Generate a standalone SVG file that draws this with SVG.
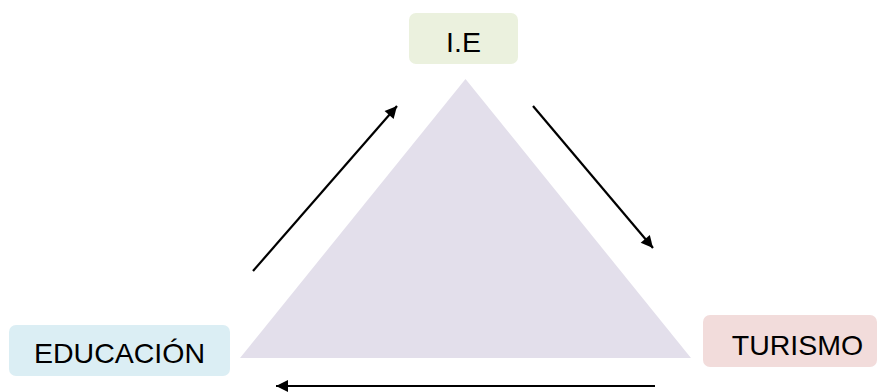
<svg xmlns="http://www.w3.org/2000/svg" width="879" height="392" viewBox="0 0 879 392">
<style>
.lbl{font-family:"Liberation Sans",Arial,sans-serif;font-size:28.5px;fill:#000;text-anchor:middle}
.con{stroke:#000;stroke-width:2.2;fill:none;marker-end:url(#ah)}
</style>
<defs>
<marker id="ah" viewBox="0 0 10 10" refX="10" refY="5" markerWidth="15" markerHeight="12" markerUnits="userSpaceOnUse" orient="auto" overflow="visible">
<path d="M0,0 L10,5 L0,10 z" fill="#000"/>
</marker>
</defs>
<rect width="879" height="392" fill="#fff"/>
<g id="triangle">
<polygon points="465.5,79 240,358 691,358" fill="#e3dfeb"/>
</g>
<g id="node-ie">
<rect x="409" y="13" width="109" height="51" rx="7" fill="#ebf1de"/>
<text class="lbl" x="463.5" y="52">I.E</text>
</g>
<g id="node-educacion">
<rect x="9" y="325" width="221" height="51" rx="7" fill="#dbeef4"/>
<text class="lbl" x="119.5" y="363">EDUCACIÓN</text>
</g>
<g id="node-turismo">
<rect x="703" y="315" width="174" height="52" rx="7" fill="#f2dcdb"/>
<text class="lbl" x="797.5" y="355">TURISMO</text>
</g>
<g id="connectors">
<line class="con" x1="253" y1="271" x2="397" y2="106"/>
<line class="con" x1="533" y1="106" x2="653" y2="248"/>
<line class="con" x1="655" y1="386" x2="276" y2="386"/>
</g>
</svg>
